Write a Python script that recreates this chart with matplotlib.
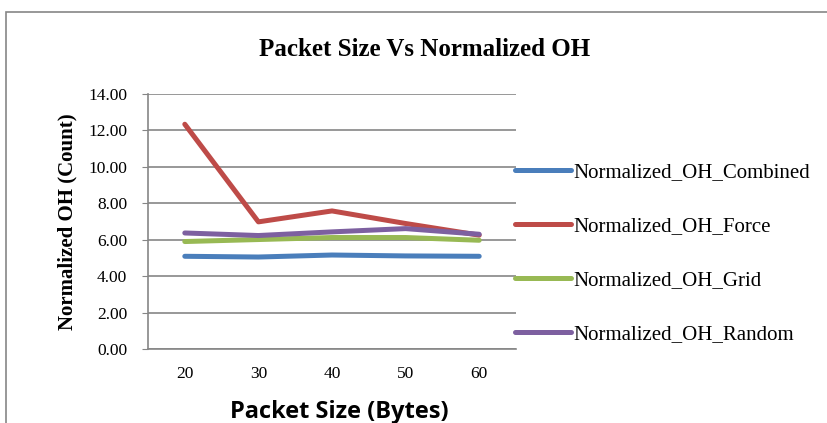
import matplotlib.pyplot as plt
from matplotlib.patches import Rectangle

# Datos
packet_sizes = ["20", "30", "40", "50", "60"]
oh_combined = [5.09, 5.05, 5.16, 5.11, 5.09]
oh_force = [12.34, 6.98, 7.58, 6.89, 6.25]
oh_grid = [5.90, 6.01, 6.12, 6.12, 5.97]
oh_random = [6.37, 6.23, 6.43, 6.61, 6.30]

series_names = ["Normalized_OH_Combined", "Normalized_OH_Force",
                "Normalized_OH_Grid", "Normalized_OH_Random"]
colores = ["#4A7EBB", "#BE4B48", "#98B954", "#7D60A0"]

serif = "Liberation Serif"

fig = plt.figure(figsize=(8.27, 4.23), dpi=100)
ax = fig.add_axes([148 / 827, 1 - 349 / 423, 368 / 827, 255 / 423])

x = range(len(packet_sizes))
for vals, nombre, c in zip([oh_combined, oh_force, oh_grid, oh_random], series_names, colores):
    ax.plot(x, vals, color=c, lw=3.6, solid_capstyle="round", label=nombre, zorder=3)

ax.set_xlim(-0.5, len(packet_sizes) - 0.5)
ax.set_ylim(0, 14)
ax.set_yticks(range(0, 15, 2))
ax.set_yticklabels([f"{v:.2f}" for v in range(0, 15, 2)], fontfamily=serif, fontsize=12.5)
ax.set_xticks(list(x))
ax.set_xticklabels(packet_sizes, fontfamily=serif, fontsize=12.5)
ax.tick_params(axis="x", length=0, pad=12)
ax.tick_params(axis="y", length=4, color="#868686", pad=11)
ax.grid(True, axis="y", color="#868686", lw=1.2, zorder=1)
for s in ["top", "right"]:
    ax.spines[s].set_visible(False)
for s in ["left", "bottom"]:
    ax.spines[s].set_color("#868686")
    ax.spines[s].set_linewidth(1.2)

ax.set_ylabel("Normalized OH (Count)", fontfamily=serif, fontsize=15, fontweight="bold", labelpad=8)
ax.set_xlabel("Packet Size (Bytes)", fontfamily="Open Sans", fontsize=17, fontweight="bold")
ax.xaxis.set_label_coords(0.52, -0.2)
fig.text(425 / 827, 1 - 50 / 423, "Packet Size Vs Normalized OH",
         fontfamily=serif, fontsize=18, fontweight="bold", ha="center", va="center")

fig.legend(loc="upper left", bbox_to_anchor=(505 / 827, 1 - 152 / 423), frameon=False,
           prop={"family": serif, "size": 15}, handlelength=2.65, handletextpad=0.12,
           labelspacing=1.66, borderpad=0)

# marco exterior del grafico
fig.add_artist(Rectangle((6 / 827, -0.1), 1.1, 1.1 - 12 / 423, transform=fig.transFigure,
                         fill=False, edgecolor="#868686", lw=1.2))

fig.savefig("out.png", dpi=100)
